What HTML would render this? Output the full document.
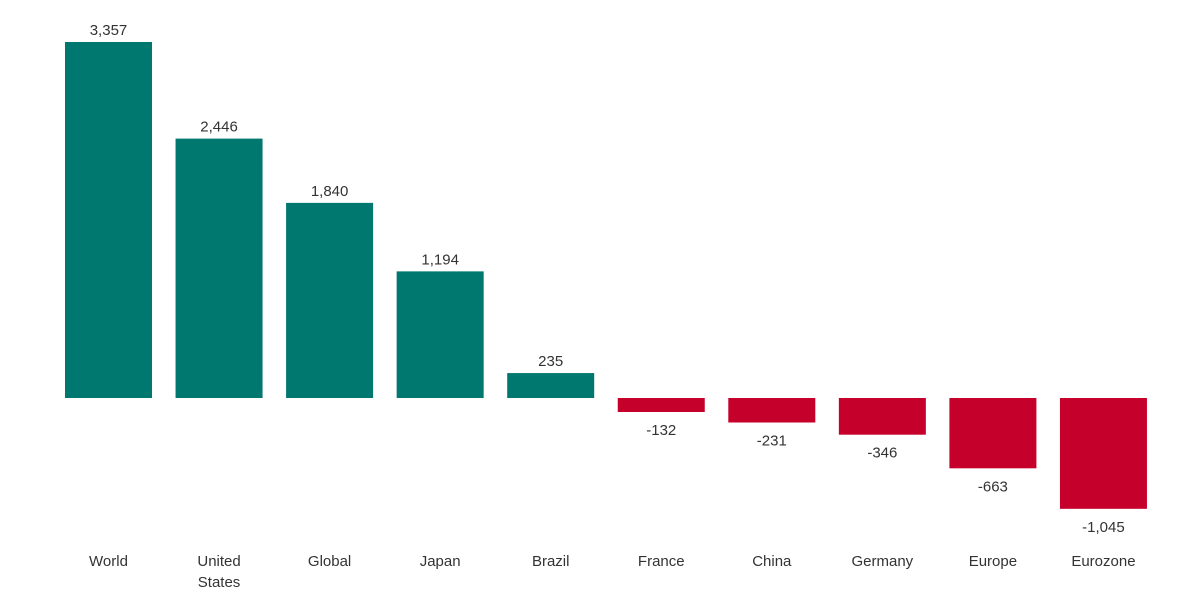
<!DOCTYPE html>
<html><head><meta charset="utf-8"><style>
html,body{margin:0;padding:0;background:#fff;width:1193px;height:594px;overflow:hidden}
svg{display:block}
text{font-family:"Liberation Sans",sans-serif;font-size:15px;fill:#333}
</style></head><body>
<svg id="chart" width="1193" height="594" xmlns="http://www.w3.org/2000/svg"></svg>
<script>
const categories = ["World","United States","Global","Japan","Brazil","France","China","Germany","Europe","Eurozone"];
const values = [3357,2446,1840,1194,235,-132,-231,-346,-663,-1045];
const valueLabels = ["3,357","2,446","1,840","1,194","235","-132","-231","-346","-663","-1,045"];

const NS="http://www.w3.org/2000/svg";
const svg=document.getElementById('chart');
const zeroY=398, pxPerUnit=356/3357;
const x0=65, step=110.55, bw=87;
function yScale(v){return zeroY - v*pxPerUnit;}
function xScale(i){return x0 + i*step;}
function mk(tag,attrs){const e=document.createElementNS(NS,tag);for(const k in attrs)e.setAttribute(k,attrs[k]);svg.appendChild(e);return e;}

values.forEach((v,i)=>{
  const x=xScale(i), y=yScale(v);
  const r=mk('rect',{x:x,y:Math.min(y,zeroY),width:bw,height:Math.abs(y-zeroY),fill:v>=0?'#00776F':'#C4002B'});
  
  
  const t=mk('text',{x:x+bw/2,y:v>=0?y-7:y+23,'text-anchor':'middle'});
  t.textContent=valueLabels[i];
  
  
  const words=categories[i]==="United States"?["United","States"]:[categories[i]];
  words.forEach((w,j)=>{
    const c=mk('text',{x:x+bw/2,y:566+j*21,'text-anchor':'middle'});
    c.textContent=w;
    
    
  });
});
</script>
</body></html>
